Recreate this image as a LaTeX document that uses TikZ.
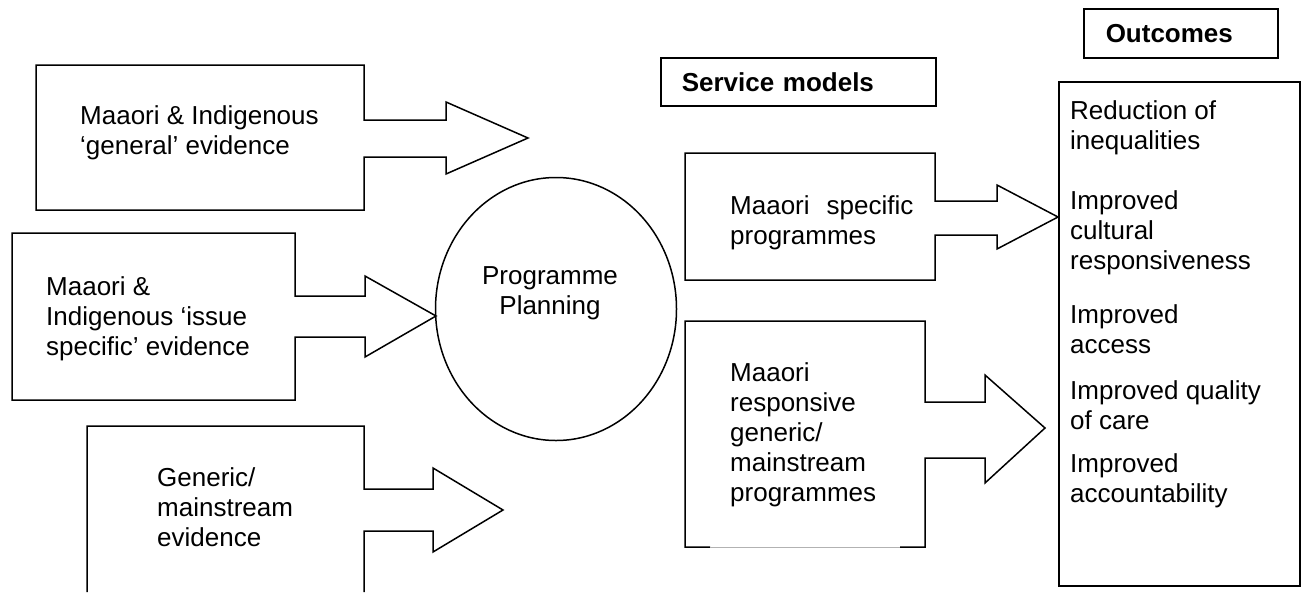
\documentclass[tikz,border=0pt]{standalone}
\usepackage{fontspec}
\setmainfont{Liberation Sans}
\usepackage{tikz}
\usetikzlibrary{shapes.geometric}

\begin{document}
\begin{tikzpicture}[
  x=1pt, y=-1pt,
  outline/.style={draw, line width=1.5pt, line join=miter},
  txt/.style={font=\fontsize{26}{30}\selectfont, align=left, inner sep=0pt, anchor=base west},
  hdr/.style={draw, line width=1.5pt, font=\bfseries\fontsize{26}{30}\selectfont,
              align=left, anchor=north west, inner ysep=0pt},
]
  \useasboundingbox (0,0) rectangle (1301,592);

  % evidence boxes with their block arrows (text placed by last baseline)
  \draw[outline] (36,65) -- (364,65) -- (364,120) -- (446,120) -- (446,102) -- (528,138)
    -- (446,174) -- (446,157) -- (364,157) -- (364,210) -- (36,210) -- cycle;
  \node[txt] (gen) at (80,154) {Maaori \& Indigenous\\`general' evidence};

  \draw[outline] (12,233) -- (295,233) -- (295,296) -- (365,296) -- (365,276) -- (436,316)
    -- (365,357) -- (365,337) -- (295,337) -- (295,400) -- (12,400) -- cycle;
  \node[txt] (iss) at (46,355) {Maaori \&\\Indigenous `issue\\specific' evidence};

  \draw[outline] (87,592) -- (87,426) -- (364,426) -- (364,489) -- (433,489) -- (433,468)
    -- (503,510) -- (433,552) -- (433,531) -- (364,531) -- (364,592);
  \node[txt] (gme) at (157,546) {Generic/\\mainstream\\evidence};

  % planning
  \node[ellipse, draw, line width=1.5pt, minimum width=241pt, minimum height=263pt] (plan) at (556,309) {};
  \node[font=\fontsize{26}{30}\selectfont, align=center, anchor=base, inner sep=0pt] (plantxt) at (550,314) {Programme\\Planning};

  % service models
  \node[hdr, text width=233pt, inner xsep=21pt, minimum height=48pt] (svc) at (660,57) {Service models};

  \draw[outline] (685,153) -- (935,153) -- (935,201) -- (997,201) -- (997,185) -- (1058,217)
    -- (997,249) -- (997,235) -- (935,235) -- (935,280) -- (685,280) -- cycle;
  \node[txt] (msp) at (730,244) {Maaori\hspace{17pt}specific\\programmes};

  \draw[outline] (710,547) -- (685,547) -- (685,321) -- (925,321) -- (925,402) -- (985,402)
    -- (985,375) -- (1045,428) -- (985,483) -- (985,458) -- (925,458) -- (925,547) -- (900,547);
  \draw[gray!60, line width=0.6pt] (710,547) -- (900,547);
  \node[txt] (rsp) at (730,501) {Maaori\\responsive\\generic/\\mainstream\\programmes};

  % outcomes
  \node[hdr, text width=150pt, inner xsep=22pt, minimum height=49pt] (outt) at (1083,8) {Outcomes};
  \node[draw, line width=1.5pt, anchor=north west, minimum width=241pt, minimum height=504pt,
        inner sep=0pt] (outc) at (1058,81) {};
  \node[txt] (oc1) at (1070,149) {Reduction of\\inequalities};
  \node[txt] (oc2) at (1070,269) {Improved\\cultural\\responsiveness};
  \node[txt] (oc3) at (1070,353) {Improved\\access};
  \node[txt] (oc4) at (1070,429) {Improved quality\\of care};
  \node[txt] (oc5) at (1070,502) {Improved\\accountability};
\end{tikzpicture}
\end{document}
